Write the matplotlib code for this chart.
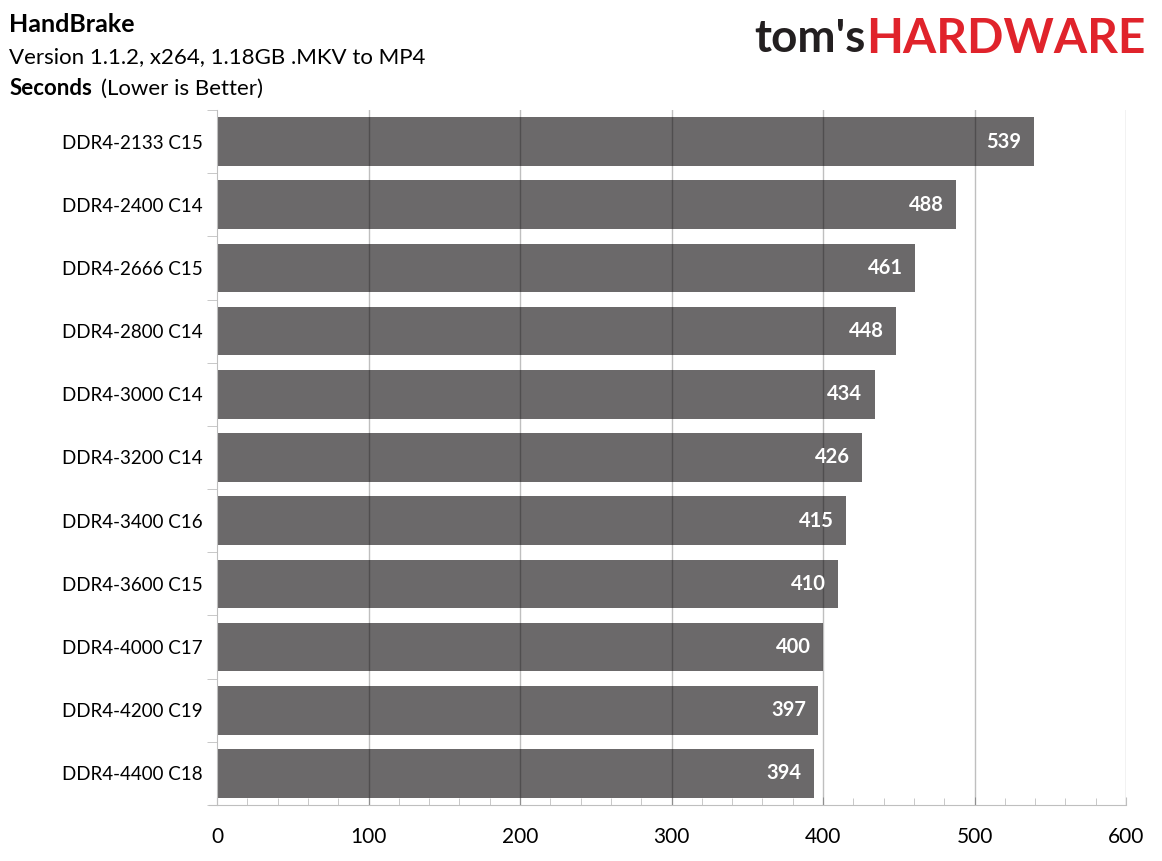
import matplotlib
matplotlib.use("Agg")
import matplotlib.pyplot as plt
from matplotlib.ticker import MultipleLocator
import numpy as np

plt.rcParams['font.family'] = ['Lato', 'DejaVu Sans']

configs = ["DDR4-2133 C15", "DDR4-2400 C14", "DDR4-2666 C15", "DDR4-2800 C14",
           "DDR4-3000 C14", "DDR4-3200 C14", "DDR4-3400 C16", "DDR4-3600 C15",
           "DDR4-4000 C17", "DDR4-4200 C19", "DDR4-4400 C18"]
seconds = [539, 488, 461, 448, 434, 426, 415, 410, 400, 397, 394]
xticks = [0, 100, 200, 300, 400, 500, 600]

bar_col = "#6b696a"
line_col = "#bfbfbf"

fig = plt.figure(figsize=(11.62, 8.61), dpi=100)
ax = fig.add_axes([217/1162, 1 - 805/861, (1126-217)/1162, (805-110)/861])

y = np.arange(len(configs))
ax.barh(y, seconds, height=0.77, color=bar_col, zorder=2)
ax.set_ylim(len(configs) - 0.5, -0.5)
ax.set_xlim(0, 600)

# gridlines drawn over the bars, semi transparent
for t in xticks[1:]:
    ax.axvline(t, color="black", alpha=0.25, lw=1, zorder=3)

for yi, v in zip(y, seconds):
    ax.text(v - 8, yi, str(v), ha="right", va="center", color="white",
            fontsize=14.5, fontweight="bold", zorder=4)

ax.set_yticks(y)
ax.set_yticklabels(configs, fontsize=13.5)
ax.set_yticks(np.arange(len(configs) + 1) - 0.5, minor=True)
ax.tick_params(axis="y", which="major", length=0, pad=10)
ax.tick_params(axis="y", which="minor", length=7, color=line_col, direction="out")

ax.set_xticks(xticks)
ax.set_xticklabels([str(t) for t in xticks], fontsize=15)
ax.xaxis.set_minor_locator(MultipleLocator(20))
ax.tick_params(axis="x", which="major", length=6, direction="in", color=line_col, pad=16)
ax.tick_params(axis="x", which="minor", length=5, direction="in", color=line_col)

for s in ["top", "right"]:
    ax.spines[s].set_visible(False)
ax.spines["left"].set_color(line_col)
ax.spines["bottom"].set_color(line_col)
ax.spines["bottom"].set_bounds(-5, 600)

fig.text(0.008, 0.971, "HandBrake", fontsize=18, fontweight="bold", va="center")
fig.text(0.008, 0.934, "Version 1.1.2, x264, 1.18GB .MKV to MP4", fontsize=16, va="center")
fig.text(0.008, 0.897, "Seconds", fontsize=16, fontweight="bold", va="center")
fig.text(0.087, 0.897, "(Lower is Better)", fontsize=16, va="center")

# logo
fig.text(0.745, 0.955, "tom's", fontsize=33, fontweight="bold", color="#231f20",
         ha="right", va="center")
fig.text(0.986, 0.955, "HARDWARE", fontsize=34.5, fontweight="bold", color="#e0232b",
         ha="right", va="center")

fig.savefig("out.png", dpi=100)
